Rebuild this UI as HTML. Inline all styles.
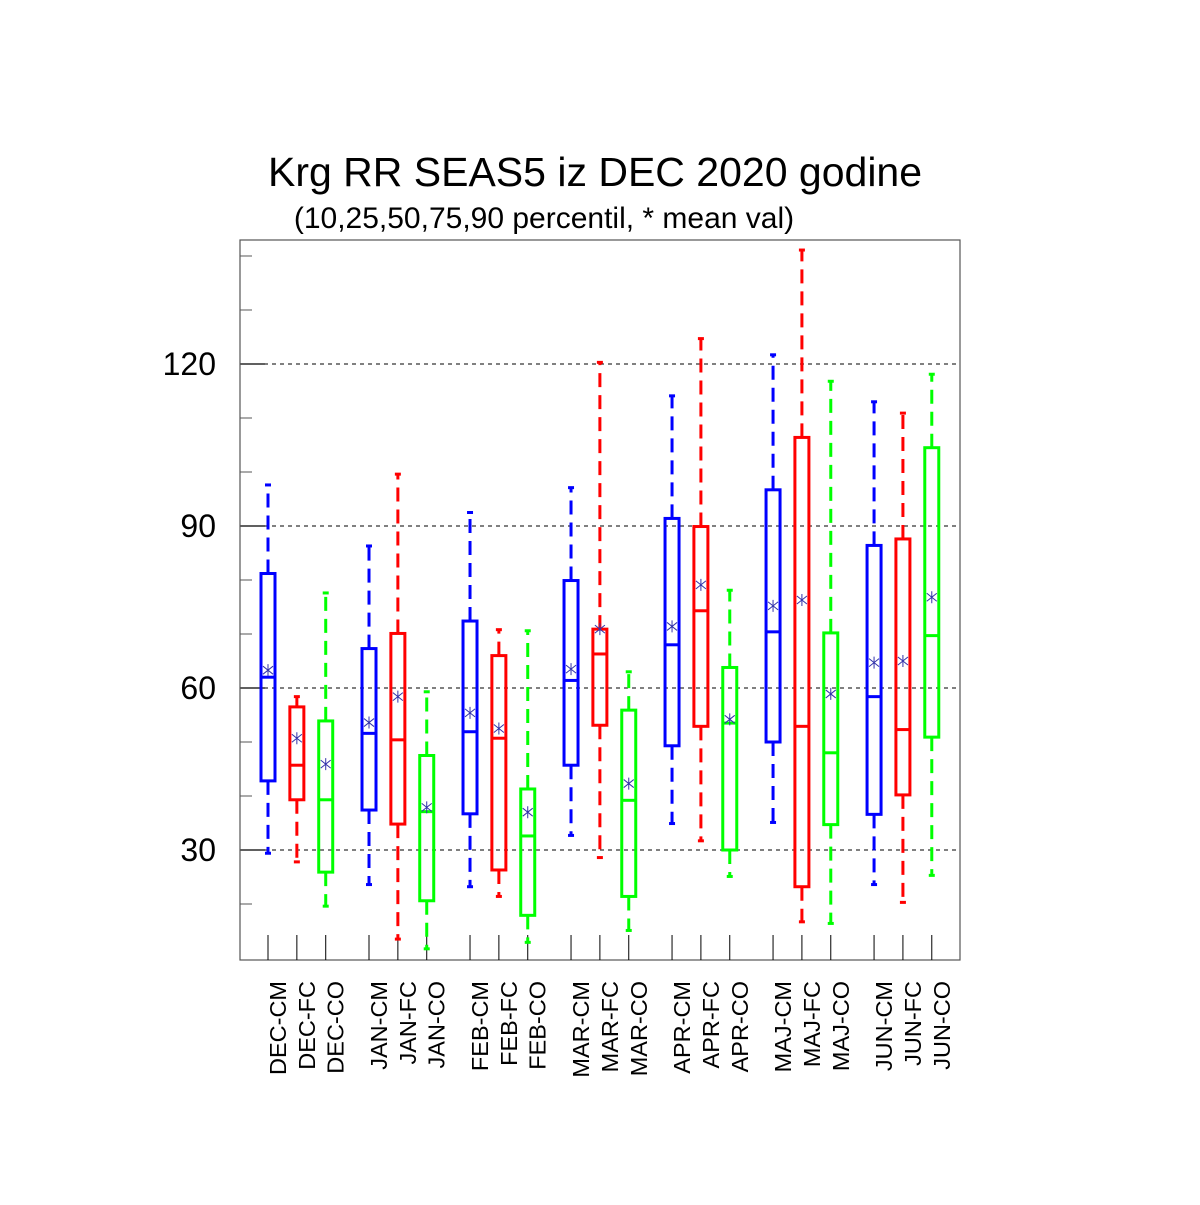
<!DOCTYPE html>
<html><head><meta charset="utf-8"><style>
html,body{margin:0;padding:0;background:#fff;}
svg text{font-family:"Liberation Sans",sans-serif;}
</style></head><body>
<svg id="chart" width="1200" height="1200" viewBox="0 0 1200 1200" xmlns="http://www.w3.org/2000/svg">
<rect width="1200" height="1200" fill="#fff"/>
<text x="595" y="186" font-size="41" text-anchor="middle">Krg RR SEAS5 iz DEC 2020 godine</text>
<text x="544" y="228" font-size="30" text-anchor="middle">(10,25,50,75,90 percentil, * mean val)</text>
<g id="grid"></g>
<g id="axes"></g>
<g id="marks"></g>
</svg>
<script>
const categories=["DEC-CM","DEC-FC","DEC-CO","JAN-CM","JAN-FC","JAN-CO","FEB-CM","FEB-FC","FEB-CO","MAR-CM","MAR-FC","MAR-CO","APR-CM","APR-FC","APR-CO","MAJ-CM","MAJ-FC","MAJ-CO","JUN-CM","JUN-FC","JUN-CO"];
const p10=[29.4,27.8,19.6,23.6,13.5,11.7,23.2,21.4,12.9,32.7,28.6,15.1,34.9,31.7,25.1,35.1,16.7,16.4,23.6,20.3,25.3];
const p25=[42.8,39.3,25.9,37.4,34.8,20.6,36.7,26.3,17.9,45.7,53.1,21.4,49.3,52.9,30.0,50.0,23.2,34.7,36.6,40.2,50.9];
const p50=[62.0,45.7,39.3,51.6,50.4,37.1,51.9,50.7,32.6,61.4,66.3,39.2,68.0,74.3,53.5,70.4,52.9,48.0,58.4,52.3,69.7];
const p75=[81.2,56.5,53.9,67.3,70.1,47.5,72.4,66.0,41.3,79.9,70.9,55.9,91.4,89.9,63.8,96.7,106.4,70.2,86.4,87.6,104.5];
const p90=[97.6,58.4,77.6,86.3,99.6,59.3,92.5,70.8,70.6,97.1,120.3,63.0,114.1,124.7,78.1,121.7,141.1,116.8,113.0,110.9,118.1];
const means=[63.3,50.7,45.9,53.6,58.4,37.9,55.4,52.5,37.0,63.5,70.9,42.3,71.4,79.1,54.2,75.2,76.3,58.9,64.7,65.0,76.8];
const yMajorTicks=[30,60,90,120];
const yMinorTicks=[20,40,50,70,80,100,110,130,140];
const colors=["#0000ff","#ff0000","#00ff00"];

const NS="http://www.w3.org/2000/svg";
const X0=240,X1=960,Y0=240,Y1=960,YMIN=9.63,YMAX=142.96;
function ys(v){return Y1-(v-YMIN)/(YMAX-YMIN)*(Y1-Y0);}
function xs(i){const g=Math.floor(i/3),j=i%3;return 268+28.86*(g*3.5+j);}
function mk(parent,tag,attrs){const e=document.createElementNS(NS,tag);for(const k in attrs)e.setAttribute(k,attrs[k]);parent.appendChild(e);return e;}
const grid=document.getElementById('grid'),axes=document.getElementById('axes'),marks=document.getElementById('marks');

yMajorTicks.forEach(v=>{
  const y=ys(v);
  const gl=mk(grid,'line',{x1:X0,x2:X1,y1:y,y2:y,stroke:'#000','stroke-width':1,'stroke-dasharray':'4,4'});
  
  
  const t=mk(axes,'line',{x1:X0,x2:X0+25,y1:y,y2:y,stroke:'#000','stroke-width':1.2});
  
  
  const lb=mk(axes,'text',{x:216,y:y+11,'font-size':32,'text-anchor':'end'});
  lb.textContent=v;
  
  
});
yMinorTicks.forEach(v=>{
  const y=ys(v);
  const t=mk(axes,'line',{x1:X0,x2:X0+12,y1:y,y2:y,stroke:'#555','stroke-width':1});
  
  
});
const frame=mk(axes,'rect',{x:X0,y:Y0,width:X1-X0,height:Y1-Y0,fill:'none',stroke:'#555','stroke-width':1.2});



categories.forEach((c,i)=>{
  const x=xs(i),col=colors[i%3],hw=7;
  const g=mk(marks,'g',{});
  
  
  const tk=mk(axes,'line',{x1:x,x2:x,y1:Y1,y2:Y1-25,stroke:'#000','stroke-width':1});
  
  
  const lb=mk(axes,'text',{x:0,y:0,'font-size':23.5,'text-anchor':'end',transform:`translate(${x+18},981) rotate(-90)`});
  lb.textContent=c;
  
  
  const w1=mk(g,'line',{x1:x,x2:x,y1:ys(p75[i]),y2:ys(p90[i]),stroke:col,'stroke-width':3,'stroke-dasharray':'14,8'});
  
  
  const w2=mk(g,'line',{x1:x,x2:x,y1:ys(p25[i]),y2:ys(p10[i]),stroke:col,'stroke-width':3,'stroke-dasharray':'14,8'});
  
  
  [p90[i],p10[i]].forEach(v=>{
    const cp=mk(g,'line',{x1:x-3,x2:x+3,y1:ys(v),y2:ys(v),stroke:col,'stroke-width':3});
    
    
  });
  const bx=mk(g,'rect',{x:x-hw,y:ys(p75[i]),width:hw*2,height:ys(p25[i])-ys(p75[i]),fill:'none',stroke:col,'stroke-width':3});
  
  
  const md=mk(g,'line',{x1:x-hw,x2:x+hw,y1:ys(p50[i]),y2:ys(p50[i]),stroke:col,'stroke-width':3});
  
  
  const my=ys(means[i]);
  const mm=mk(g,'path',{d:`M${x-5},${my-4}L${x+5},${my+4}M${x-5},${my+4}L${x+5},${my-4}M${x},${my-6}L${x},${my+6}`,stroke:'#3333aa','stroke-width':1,fill:'none'});
  
  
});
</script>
</body></html>
